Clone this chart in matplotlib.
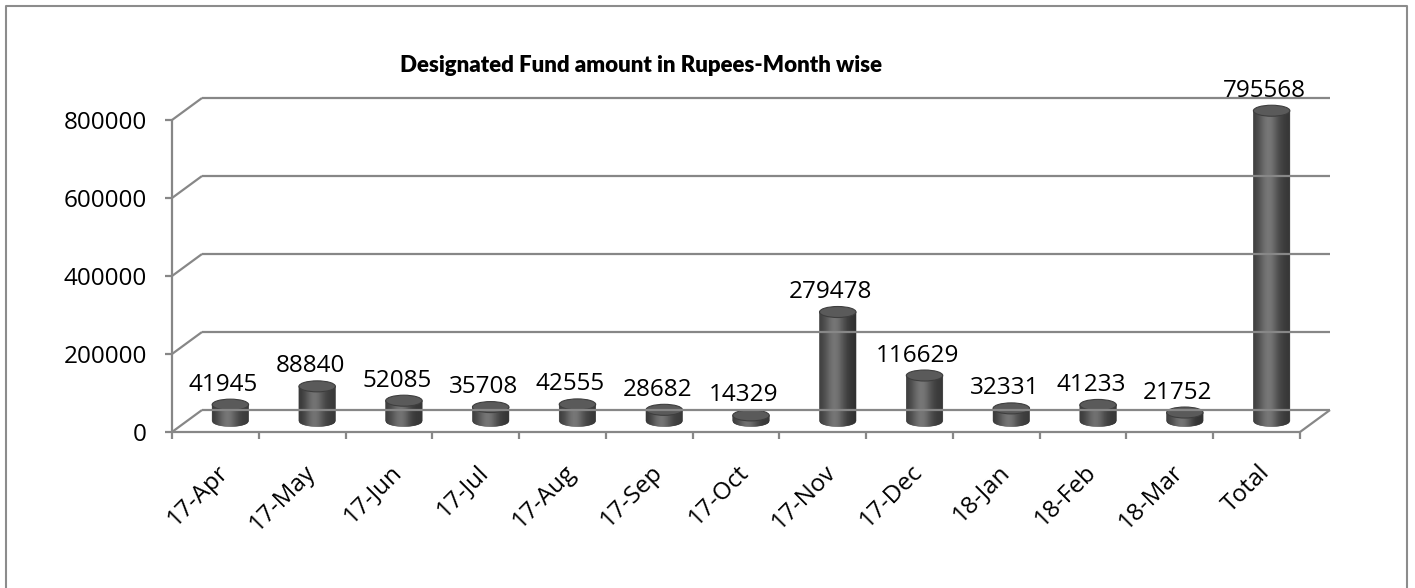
import numpy as np
import matplotlib.pyplot as plt
from matplotlib.patches import Polygon, Ellipse

# ---- data ----
months = ['17-Apr', '17-May', '17-Jun', '17-Jul', '17-Aug', '17-Sep', '17-Oct',
          '17-Nov', '17-Dec', '18-Jan', '18-Feb', '18-Mar', 'Total']
amounts = [41945, 88840, 52085, 35708, 42555, 28682, 14329,
           279478, 116629, 32331, 41233, 21752, 795568]
y_ticks = [0, 200000, 400000, 600000, 800000]
title = 'Designated Fund amount in Rupees-Month wise'

W, H = 1415, 588
DEPTH = (30, 22)        # pixel offset of the back wall (fake 3D)
GRID = '#878787'
FS = 17.5

plt.rcParams['font.family'] = ['Open Sans', 'DejaVu Sans']

fig = plt.figure(figsize=(W / 100, H / 100), dpi=100)

# front plane of the chart in data units
ax = fig.add_axes([172 / W, (H - 432) / H, (1300 - 172) / W, (432 - 120) / H])
ax.set_xlim(-0.5, len(months) - 0.5)
ax.set_ylim(0, y_ticks[-1])
ax.axis('off')

# pixel overlay where the 3D pieces get drawn
px = fig.add_axes([0, 0, 1, 1], zorder=2)
px.set_xlim(0, W)
px.set_ylim(0, H)
px.axis('off')
px.patch.set_alpha(0)


def to_px(x, v, depth=0.0):
    """data point on the front plane -> pixel, pushed back by depth (0..1)"""
    p = ax.transData.transform((x, v))
    return p[0] + depth * DEPTH[0], p[1] + depth * DEPTH[1]


def line(a, b, **kw):
    px.plot([a[0], b[0]], [a[1], b[1]], color=GRID, lw=1.6,
            solid_capstyle='butt', **kw)


n = len(months)
x_lo, x_hi = -0.5, n - 0.5

# walls / gridlines
for v in y_ticks:
    line(to_px(x_lo, v, 1), to_px(x_hi, v, 1))
    line(to_px(x_lo, v, 0), to_px(x_lo, v, 1))
    p = to_px(x_lo, v, 0)
    line((p[0] - 7, p[1]), p)
    px.text(p[0] - 25, p[1], f'{v}', ha='right', va='center_baseline',
            fontsize=FS)
line(to_px(x_lo, 0, 0), to_px(x_hi, 0, 0))
line(to_px(x_hi, 0, 0), to_px(x_hi, 0, 1))
line(to_px(x_lo, 0, 0), to_px(x_lo, y_ticks[-1], 0))

# category ticks and labels
for i in range(n + 1):
    p = to_px(i - 0.5, 0, 0)
    line(p, (p[0], p[1] - 7))
for i, m in enumerate(months):
    p = to_px(i, 0, 0)
    px.text(p[0] + 1, p[1] - 28, m, rotation=45, ha='right', va='top',
            rotation_mode='anchor', fontsize=FS)

# cylinders
slot = to_px(1, 0)[0] - to_px(0, 0)[0]
rx, ry = 0.21 * slot, 5.5
nstrip = 36
for i, v in enumerate(amounts):
    cx, yb = to_px(i, 0, 0.5)
    _, yt = to_px(i, v, 0.5)
    xs = np.linspace(cx - rx, cx + rx, nstrip + 1)
    for j in range(nstrip):
        x0, x1 = xs[j], xs[j + 1]
        u0, u1 = (x0 - cx) / rx, (x1 - cx) / rx
        um = 0.5 * (u0 + u1)
        g = 0.19 + 0.25 * np.exp(-((um + 0.15) / 0.55) ** 2)
        col = (g, g, g)
        s0 = np.sqrt(max(0.0, 1 - u0 ** 2))
        s1 = np.sqrt(max(0.0, 1 - u1 ** 2))
        px.add_patch(Polygon([(x0, yb - ry * s0), (x1, yb - ry * s1),
                              (x1, yt), (x0, yt)],
                             closed=True, fc=col, ec=col, lw=0.4))
    px.add_patch(Ellipse((cx, yt), 2 * rx, 2 * ry, fc='#5a5a5a',
                         ec='#3e3e3e', lw=0.8))
    px.text(cx - 7, yt + 14, f'{v}', ha='center', va='baseline', fontsize=FS)

# title
px.text(641, H - 66, title, ha='center', va='center', fontsize=16,
        fontweight='heavy', family=['Lato', 'DejaVu Sans'])

# chart border (bottom edge falls off the image)
bx0, bx1, by0 = 6, 1407, H - 6
px.plot([bx0, bx0, bx1, bx1], [0, by0, by0, 0], color='#8c8c8c', lw=1.5)

fig.savefig('out.png', dpi=100)
